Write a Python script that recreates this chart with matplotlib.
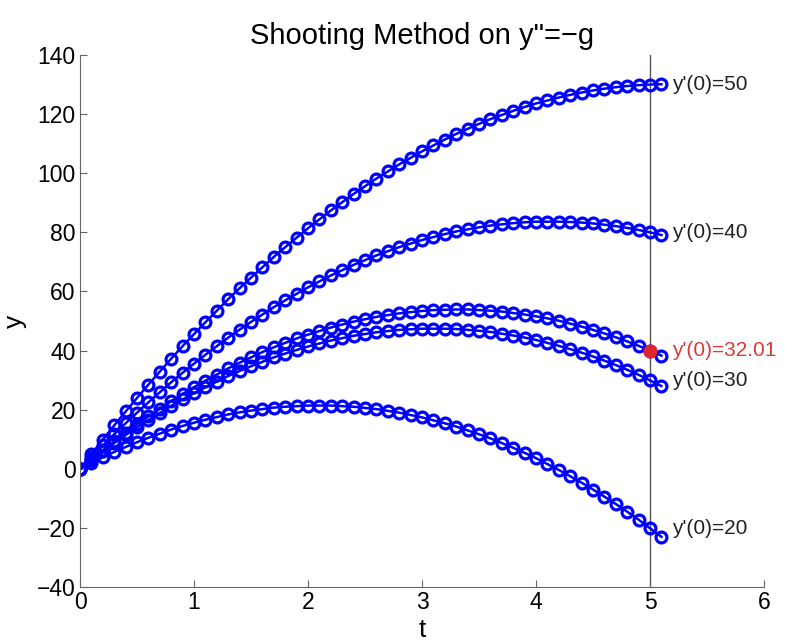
import numpy as np
import matplotlib
matplotlib.use("Agg")
import matplotlib.pyplot as plt

# time steps (h = 0.1)
t = [round(0.1 * i, 1) for i in range(52)]

# y'(0) = 20
y20 = [0, 2, 3.9, 5.7, 7.4, 9.0, 10.5, 11.9, 13.3, 14.5, 15.6, 16.6, 17.5, 18.4,
       19.1, 19.7, 20.2, 20.7, 21.0, 21.2, 21.4, 21.4, 21.4, 21.2, 21.0, 20.6,
       20.2, 19.6, 19.0, 18.2, 17.4, 16.4, 15.4, 14.3, 13.0, 11.7, 10.3, 8.7,
       7.1, 5.4, 3.6, 1.6, -0.4, -2.5, -4.7, -7.0, -9.4, -11.9, -14.5, -17.2,
       -20.1, -23.0]
# y'(0) = 30
y30 = [0, 3, 5.9, 8.7, 11.4, 14.0, 16.5, 18.9, 21.3, 23.5, 25.6, 27.6, 29.5, 31.4,
       33.1, 34.7, 36.2, 37.7, 39.0, 40.2, 41.4, 42.4, 43.4, 44.2, 45.0, 45.6,
       46.2, 46.6, 47.0, 47.2, 47.4, 47.4, 47.4, 47.3, 47.0, 46.7, 46.3, 45.7,
       45.1, 44.4, 43.6, 42.6, 41.6, 40.5, 39.3, 38.0, 36.6, 35.1, 33.5, 31.8,
       29.9, 28.0]
# y'(0) = 40
y40 = [0, 4, 7.9, 11.7, 15.4, 19.0, 22.5, 25.9, 29.3, 32.5, 35.6, 38.6, 41.5, 44.4,
       47.1, 49.7, 52.2, 54.7, 57.0, 59.2, 61.4, 63.4, 65.4, 67.2, 69.0, 70.6,
       72.2, 73.6, 75.0, 76.2, 77.4, 78.4, 79.4, 80.3, 81.0, 81.7, 82.3, 82.7,
       83.1, 83.4, 83.6, 83.6, 83.6, 83.5, 83.3, 83.0, 82.6, 82.1, 81.5, 80.8,
       80.0, 79.1]
# y'(0) = 50
y50 = [0, 5, 9.9, 14.7, 19.4, 24.0, 28.5, 32.9, 37.3, 41.5, 45.6, 49.6, 53.5, 57.4,
       61.1, 64.7, 68.2, 71.7, 75.0, 78.2, 81.4, 84.4, 87.4, 90.2, 93.0, 95.6,
       98.2, 100.6, 103.0, 105.2, 107.4, 109.4, 111.4, 113.3, 115.0, 116.7,
       118.3, 119.7, 121.1, 122.4, 123.6, 124.6, 125.6, 126.5, 127.3, 128.0,
       128.6, 129.1, 129.5, 129.8, 130.0, 130.1]
# y'(0) = 32.01 (the shot that hits the target)
y3201 = [0, 3.2, 6.3, 9.3, 12.2, 15.0, 17.7, 20.3, 22.9, 25.3, 27.6, 29.8, 31.9,
         34.0, 35.9, 37.7, 39.5, 41.1, 42.6, 44.1, 45.4, 46.6, 47.8, 48.8, 49.8,
         50.6, 51.4, 52.0, 52.6, 53.0, 53.4, 53.7, 53.8, 53.9, 53.9, 53.7, 53.5,
         53.2, 52.7, 52.2, 51.6, 50.9, 50.1, 49.1, 48.1, 47.0, 45.8, 44.5, 43.1,
         41.6, 40.0, 38.3]

labels = ["y'(0)=20", "y'(0)=30", "y'(0)=40", "y'(0)=50", "y'(0)=32.01"]
t_end = 5
y_target = 40

plt.rcParams['font.family'] = ['Liberation Sans', 'DejaVu Sans']

fig = plt.figure(figsize=(7.87, 6.43), dpi=100)
ax = fig.add_axes([0.1017, 0.0870, 0.8691, 0.8275])

blue = '#0000ff'
for y in [y20, y30, y40, y50, y3201]:
    ax.plot(t, y, '-o', color=blue, lw=1.8, ms=7.8, mfc='none', mew=2.3)

# vertical line at t = 5
ax.axvline(t_end, color='#555555', lw=1, zorder=0)

# target point
ax.plot(t_end, y_target, 'o', color='#e0262a', ms=9, zorder=5)

# labels at the end of each curve
i5 = t.index(t_end)
for y, lab in zip([y20, y30, y40, y50], labels[:4]):
    ax.text(5.19, y[i5], lab, fontsize=15, va='center', ha='left', color='#222222')
ax.text(5.19, y3201[i5], labels[4], fontsize=15, va='center', ha='left', color='#d93a3a')

ax.set_xlim(0, 6)
ax.set_ylim(-40, 140)
ax.set_xticks(range(0, 7))
ax.set_yticks(range(-40, 141, 20))
ax.set_yticklabels([str(v).replace('-', '\u2212') for v in range(-40, 141, 20)])

ax.spines['top'].set_visible(False)
ax.spines['right'].set_visible(False)
ax.spines['left'].set_color('#666666')
ax.spines['bottom'].set_color('#666666')
ax.tick_params(direction='in', length=5, labelsize=16.5, color='#666666', pad=3)

ax.set_title('Shooting Method on y"=\u2212g', fontsize=21, pad=8)
ax.set_xlabel('t', fontsize=19)
ax.xaxis.set_label_coords(0.5, -0.058)
ax.set_ylabel('y', fontsize=19)
ax.yaxis.set_label_coords(-0.078, 0.5)

plt.savefig('out.png', dpi=100)
